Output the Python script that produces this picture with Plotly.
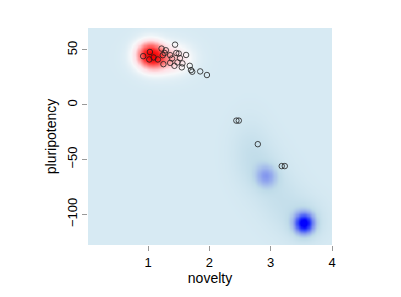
import numpy as np
import plotly.graph_objects as go

# scatter points (novelty, pluripotency)
pt_x = [1.44, 1.22, 1.29, 1.03, 0.92, 1.02, 1.09, 1.16, 1.24, 1.27, 1.36, 1.46, 1.50, 1.62,
        1.39, 1.52, 1.25, 1.36, 1.43, 1.48, 1.56, 1.55, 1.68, 1.70, 1.72, 1.85, 1.96,
        2.44, 2.48, 2.79, 3.18, 3.23]
pt_y = [54.8, 51.2, 49.7, 48.1, 44.3, 41.3, 43.1, 41.3, 45.2, 47.2, 45.2, 47.2, 46.7, 45.4,
        42.2, 42.5, 37.0, 38.2, 35.5, 38.6, 37.7, 34.1, 35.5, 31.6, 30.1, 30.4, 27.1,
        -14.5, -14.5, -36.0, -56.0, -56.0]

# density components (center x, center y, sd x, sd y, signed weight)
comp_cx = [1.02, 1.08, 1.42, 1.25, 3.54, 3.54, 2.92, 2.65, 2.85, 3.15]
comp_cy = [48.0, 41.0, 42.0, 43.0, -108.0, -105.0, -65.0, -40.0, -60.0, -85.0]
comp_sx = [0.15, 0.17, 0.18, 0.32, 0.11, 0.24, 0.12, 0.22, 0.25, 0.25]
comp_sy = [7.5, 7.5, 8.0, 12.0, 6.5, 14.0, 7.0, 20.0, 18.0, 18.0]
comp_w = [0.62, 0.42, 0.22, 0.10, -0.95, -0.15, -0.32, -0.09, -0.09, -0.09]

gx = np.linspace(0.02, 4.0, 200)
gy = np.linspace(-128, 70, 200)
X, Y = np.meshgrid(gx, gy)
Z = np.zeros_like(X)
for cx, cy, sx, sy, w in zip(comp_cx, comp_cy, comp_sx, comp_sy, comp_w):
    Z += w * np.exp(-0.5 * (((X - cx) / sx) ** 2 + ((Y - cy) / sy) ** 2))
Z = np.clip(Z, -1, 1)

cscale = [
    [0.0, "rgb(0,0,255)"],
    [0.12, "rgb(50,70,250)"],
    [0.28, "rgb(135,155,238)"],
    [0.42, "rgb(192,220,233)"],
    [0.5, "rgb(215,234,243)"],
    [0.56, "rgb(246,248,250)"],
    [0.63, "rgb(255,225,230)"],
    [0.76, "rgb(255,130,130)"],
    [0.89, "rgb(255,40,40)"],
    [1.0, "rgb(245,0,0)"],
]

fig = go.Figure()
fig.add_trace(go.Heatmap(x=gx, y=gy, z=Z, colorscale=cscale, zmin=-1, zmax=1,
                         zsmooth="best", showscale=False, hoverinfo="skip"))
fig.add_trace(go.Scatter(x=pt_x, y=pt_y, mode="markers",
                         marker=dict(symbol="circle-open", size=5.5,
                                     color="rgba(30,30,30,0.8)", line=dict(width=1)),
                         showlegend=False))

font = dict(family="Liberation Sans, Arial, sans-serif", size=13, color="black")
fig.update_layout(
    width=401, height=297,
    margin=dict(l=88, r=69, t=28, b=52),
    paper_bgcolor="white", plot_bgcolor="white",
    font=font,
    xaxis=dict(range=[0.02, 4.0], tickvals=[1, 2, 3, 4], showgrid=False, zeroline=False,
               showline=False, ticks="outside", ticklen=5, tickcolor="#999",
               title=dict(text="novelty", font=dict(size=14), standoff=2)),
    yaxis=dict(range=[-128, 70], tickvals=[50, 0, -50, -100], showgrid=False, zeroline=False,
               showline=False, ticks="outside", ticklen=5, tickcolor="#999", tickangle=-90,
               title=dict(text="pluripotency", font=dict(size=14), standoff=4)),
)
fig.write_html("out.html")
